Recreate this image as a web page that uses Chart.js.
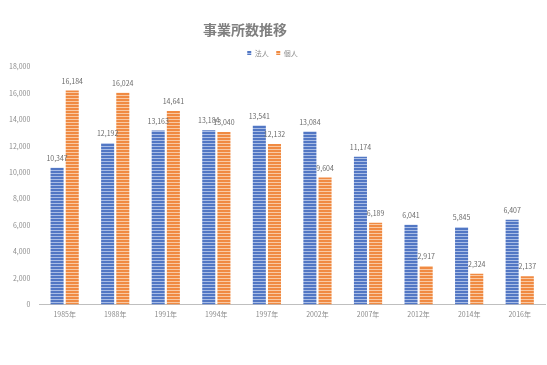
<!DOCTYPE html>
<html lang="ja">
<head>
    <meta charset="UTF-8">
    <title>事業所数推移</title>
    <script src="https://cdn.jsdelivr.net/npm/chart.js"></script>
    <style>
        html, body { margin: 0; padding: 0; background: #fff; }
        .chart-container { position: relative; width: 547px; height: 365px; }
    </style>
</head>
<body>
    <div class="chart-container">
        <canvas id="chart"></canvas>
    </div>

    <script>
// Data
const years = ['1985年', '1988年', '1991年', '1994年', '1997年', '2002年', '2007年', '2012年', '2014年', '2016年'];
const corporate = [10347, 12192, 13163, 13184, 13541, 13084, 11174, 6041, 5845, 6407];
const individual = [16184, 16024, 14641, 13040, 12132, 9604, 6189, 2917, 2324, 2137];
const yTicks = [0, 2000, 4000, 6000, 8000, 10000, 12000, 14000, 16000, 18000];

const fontFamily = '"Noto Sans CJK JP", "Noto Sans", sans-serif';
const textColor = '#8c8c8c';

// Horizontal striped fill like the original bars
function stripes(base, light) {
    const c = document.createElement('canvas');
    c.width = 4;
    c.height = 3;
    const g = c.getContext('2d');
    g.fillStyle = base;
    g.fillRect(0, 0, 4, 3);
    g.fillStyle = light;
    g.fillRect(0, 2, 4, 1);
    return g.createPattern(c, 'repeat');
}

// Draw the value above each bar
const valueLabels = {
    id: 'valueLabels',
    afterDatasetsDraw(chart) {
        const ctx = chart.ctx;
        ctx.save();
        ctx.font = '7px ' + fontFamily;
        ctx.fillStyle = '#6b6b6b';
        ctx.textAlign = 'center';
        ctx.textBaseline = 'bottom';
        chart.data.datasets.forEach((ds, i) => {
            chart.getDatasetMeta(i).data.forEach((bar, j) => {
                ctx.fillText(ds.data[j].toLocaleString('en-US'), bar.x, bar.y - 6);
            });
        });
        ctx.restore();
    }
};

// Title drawn by hand so it can sit left of centre, as in the original
const chartTitle = {
    id: 'chartTitle',
    afterDraw(chart) {
        const ctx = chart.ctx;
        ctx.save();
        ctx.font = 'bold 14px ' + fontFamily;
        ctx.fillStyle = '#7f7f7f';
        ctx.textAlign = 'center';
        ctx.textBaseline = 'middle';
        ctx.fillText('事業所数推移', 245, 30);
        ctx.restore();
    }
};

new Chart(document.getElementById('chart'), {
    type: 'bar',
    data: {
        labels: years,
        datasets: [{
            label: '法人',
            data: corporate,
            backgroundColor: stripes('#5277c4', '#a9bde6'),
            borderWidth: 0,
            categoryPercentage: 0.6,
            barPercentage: 0.86
        }, {
            label: '個人',
            data: individual,
            backgroundColor: stripes('#f08a42', '#f9c9a3'),
            borderWidth: 0,
            categoryPercentage: 0.6,
            barPercentage: 0.86
        }]
    },
    options: {
        responsive: true,
        maintainAspectRatio: false,
        animation: false,
        layout: {
            padding: { top: 42, right: 2, bottom: 40, left: 0 }
        },
        scales: {
            x: {
                grid: { display: false, drawTicks: false },
                border: { display: true, color: '#bfbfbf' },
                ticks: {
                    color: textColor,
                    font: { family: fontFamily, size: 7 },
                    maxRotation: 0,
                    padding: 6
                }
            },
            y: {
                min: 0,
                max: 18000,
                afterBuildTicks(axis) {
                    axis.ticks = yTicks.map(v => ({ value: v }));
                },
                grid: { display: false, drawTicks: false },
                border: { display: false },
                ticks: {
                    color: textColor,
                    font: { family: fontFamily, size: 7 },
                    padding: 9,
                    callback: v => v.toLocaleString('en-US')
                }
            }
        },
        plugins: {
            legend: {
                display: true,
                position: 'top',
                labels: {
                    color: textColor,
                    font: { family: fontFamily, size: 7 },
                    boxWidth: 4,
                    boxHeight: 4,
                    padding: 7.5
                }
            },
            title: { display: false },
            tooltip: { enabled: false }
        }
    },
    plugins: [valueLabels, chartTitle]
});
    </script>
</body>
</html>
